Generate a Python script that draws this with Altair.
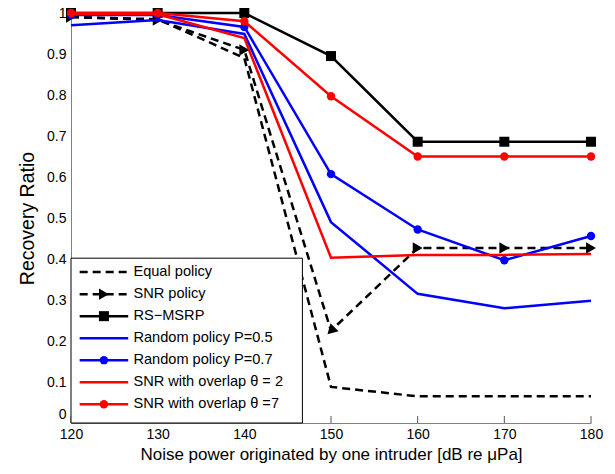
import altair as alt
import pandas as pd

noise = [120, 130, 140, 150, 160, 170, 180]
equal_policy = [0.99, 0.985, 0.89, 0.088, 0.065, 0.065, 0.065]
snr_policy = [0.99, 0.983, 0.91, 0.225, 0.427, 0.427, 0.427]
rs_msrp = [1.0, 1.0, 1.0, 0.895, 0.686, 0.686, 0.686]
random_05 = [0.97, 0.983, 0.949, 0.49, 0.315, 0.28, 0.298]
random_07 = [0.995, 0.995, 0.966, 0.607, 0.472, 0.397, 0.456]
overlap_2 = [0.997, 0.997, 0.939, 0.403, 0.41, 0.41, 0.412]
overlap_7 = [1.0, 1.0, 0.98, 0.797, 0.65, 0.65, 0.65]

names = ["Equal policy", "SNR policy", "RS\u2212MSRP", "Random policy P=0.5",
         "Random policy P=0.7", "SNR with overlap \u03b8 = 2", "SNR with overlap \u03b8 =7"]
values = [equal_policy, snr_policy, rs_msrp, random_05, random_07, overlap_2, overlap_7]
colors = ["#000000", "#000000", "#000000", "#0000ff", "#0000ff", "#ff0000", "#ff0000"]
dashes = [[8, 5], [8, 5], None, None, None, None, None]
shapes = [None, "triangle-right", "square", None, "circle", None, "circle"]
sizes = {"triangle-right": 130, "square": 100, "circle": 70}

FONT = "Liberation Sans"

rows = []
for n, vals in zip(names, values):
    for xv, yv in zip(noise, vals):
        rows.append({"series": n, "x": xv, "y": yv})
df = pd.DataFrame(rows)

X = alt.X("x:Q", scale=alt.Scale(domain=[120, 180], nice=False, zero=False, padding=0),
          axis=alt.Axis(values=noise, title="Noise power originated by one intruder [dB re \u03bcPa]",
                        ticks=False, tickSize=0, labelFlush=False, labelPadding=4, titlePadding=5,
                        grid=False, labelFontSize=14, titleFontSize=17))
Y = alt.Y("y:Q", scale=alt.Scale(domain=[0, 1], nice=False, padding=0),
          axis=alt.Axis(values=[i / 10 for i in range(11)], format="~g", title="Recovery Ratio",
                        ticks=False, tickSize=0, labelFlush=False, labelPadding=5, titlePadding=9,
                        labelOffset={"condition": {"test": "datum.value === 0", "value": -9}, "value": 0},
                        grid=False, labelFontSize=14, titleFontSize=19.5))

layers = []
# inner x ticks
tick_df = pd.DataFrame({"x": noise, "y": [0] * len(noise), "y2": [0.017] * len(noise)})
layers.append(alt.Chart(tick_df).mark_rule(color="#555555", strokeWidth=1).encode(x=X, y=Y, y2="y2:Q"))

for n, c, d, s in zip(names, colors, dashes, shapes):
    base = alt.Chart(df).transform_filter(alt.datum.series == n)
    kw = {"color": c, "strokeWidth": 2.5}
    if d:
        kw["strokeDash"] = d
    layers.append(base.mark_line(**kw).encode(x=X, y=Y))
    if s:
        enc = {"x": X, "y": Y}
        if s == "triangle-right":
            enc["angle"] = alt.condition(alt.datum.x == 150, alt.value(135), alt.value(0))
        layers.append(base.mark_point(shape=s, filled=True, opacity=1, color=c, size=sizes[s]).encode(**enc))

# legend
leg_box = pd.DataFrame({"x": [120.0], "x2": [146.7], "y": [0.0], "y2": [0.402]})
layers.append(alt.Chart(leg_box).mark_rect(fill="white", stroke="black", strokeWidth=1).encode(
    x=X, x2="x2:Q", y=Y, y2="y2:Q"))
row_y = [0.368 - i * 0.0537 for i in range(len(names))]
for i, (n, c, d, s) in enumerate(zip(names, colors, dashes, shapes)):
    ldf = pd.DataFrame({"x": [121.0, 126.6], "y": [row_y[i], row_y[i]]})
    kw = {"color": c, "strokeWidth": 2.5}
    if d:
        kw["strokeDash"] = d
    layers.append(alt.Chart(ldf).mark_line(**kw).encode(x=X, y=Y))
    if s:
        pdf = pd.DataFrame({"x": [123.8], "y": [row_y[i]]})
        layers.append(alt.Chart(pdf).mark_point(shape=s, filled=True, opacity=1, color=c,
                                                size=sizes[s]).encode(x=X, y=Y))
    tdf = pd.DataFrame({"x": [127.2], "y": [row_y[i]], "t": [n]})
    layers.append(alt.Chart(tdf).mark_text(align="left", baseline="middle", fontSize=14.6, font=FONT,
                                           color="black").encode(x=X, y=Y, text="t:N"))

chart = alt.layer(*layers).properties(
    width=520, height=410,
    autosize=alt.AutoSizeParams(type="none"),
    padding={"left": 71, "top": 13, "right": 24, "bottom": 51},
).configure_view(stroke=None).configure_axis(
    domainColor="#808080", domainWidth=1, labelFont=FONT, titleFont=FONT,
    labelColor="black", titleColor="black", titleFontWeight="normal"
)

chart.save("out.html", embed_options={"renderer": "svg", "actions": False})
